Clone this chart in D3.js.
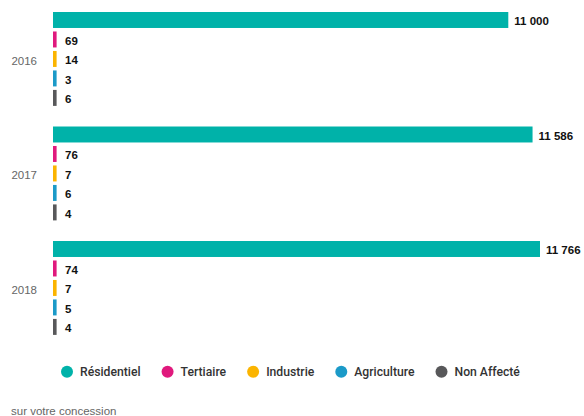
<!DOCTYPE html>
<html>
<head>
<meta charset="utf-8">
<script src="https://cdn.jsdelivr.net/npm/d3@7"></script>
<style>
  body { margin: 0; background: #fff; }
  svg { font-family: "Liberation Sans", Arial, sans-serif; }
</style>
</head>
<body>
<svg id="my-svg"></svg>
<script>
const years = ["2016", "2017", "2018"];
const categories = ["Résidentiel", "Tertiaire", "Industrie", "Agriculture", "Non Affecté"];
const colors = ["#00b2a9", "#e0197d", "#fbb400", "#1b9ac8", "#58585a"];
const residentiel = [11000, 11586, 11766];
const tertiaire = [69, 76, 74];
const industrie = [14, 7, 7];
const agriculture = [3, 6, 5];
const nonAffecte = [6, 4, 4];
const caption = "sur votre concession";

const series = [residentiel, tertiaire, industrie, agriculture, nonAffecte];

const width = 584;
const height = 416;

let svg = d3.select("#my-svg")
    .attr("width", width)
    .attr("height", height);

const x = d3.scaleLinear()
    .domain([0, 11766])
    .range([53, 540]);

const y0 = d3.scaleBand()
    .domain(years)
    .range([1.7, 345.2])
    .paddingInner(0.18)
    .paddingOuter(0.09);

const y1 = d3.scaleBand()
    .domain(categories)
    .range([0, y0.bandwidth()])
    .paddingInner(0.18);

const color = d3.scaleOrdinal()
    .domain(categories)
    .range(colors);

const fmt = v => d3.format(",")(v).replace(/,/g, " ");

// rows: one per year x category
const rows = [];
years.forEach((yr, i) => {
    categories.forEach((c, j) => {
        rows.push({ year: yr, cat: c, value: series[j][i] });
    });
});

const minW = 3.6;

svg.append("g")
    .selectAll("rect")
    .data(rows)
    .join("rect")
        .attr("x", x(0))
        .attr("y", d => y0(d.year) + y1(d.cat))
        .attr("width", d => Math.max(x(d.value) - x(0), minW))
        .attr("height", y1.bandwidth())
        .style("fill", d => color(d.cat));

svg.append("g")
    .selectAll("text")
    .data(rows)
    .join("text")
        .attr("x", d => Math.max(x(d.value) + 6, x(0) + 12))
        .attr("y", d => y0(d.year) + y1(d.cat) + y1.bandwidth() / 2 + 5.5)
        .style("font-size", "11.5px")
        .style("font-weight", "bold")
        .style("fill", "#111")
        .text(d => fmt(d.value));

// year labels
svg.append("g")
    .selectAll("text")
    .data(years)
    .join("text")
        .attr("x", 37)
        .attr("y", d => y0(d) + y0.bandwidth() / 2 + 6)
        .attr("text-anchor", "end")
        .style("font-size", "11.5px")
        .style("fill", "#666")
        .text(d => d);

// legend
const legend = svg.append("g");
let lx = 67;
categories.forEach(c => {
    legend.append("circle")
        .attr("cx", lx)
        .attr("cy", 371.7)
        .attr("r", 6)
        .style("fill", color(c));
    const t = legend.append("text")
        .attr("x", lx + 13)
        .attr("y", 376)
        .style("font-family", "Roboto, sans-serif")
        .style("font-size", "12.2px")
        .style("font-weight", 500)
        .style("fill", "#333")
        .text(c);
    const w = t.node().getComputedTextLength();
    lx = lx + 13 + w + 27;
});

svg.append("text")
    .attr("x", 11)
    .attr("y", 414.5)
    .style("font-size", "11.5px")
    .style("fill", "#666")
    .text(caption);
</script>
</body>
</html>
